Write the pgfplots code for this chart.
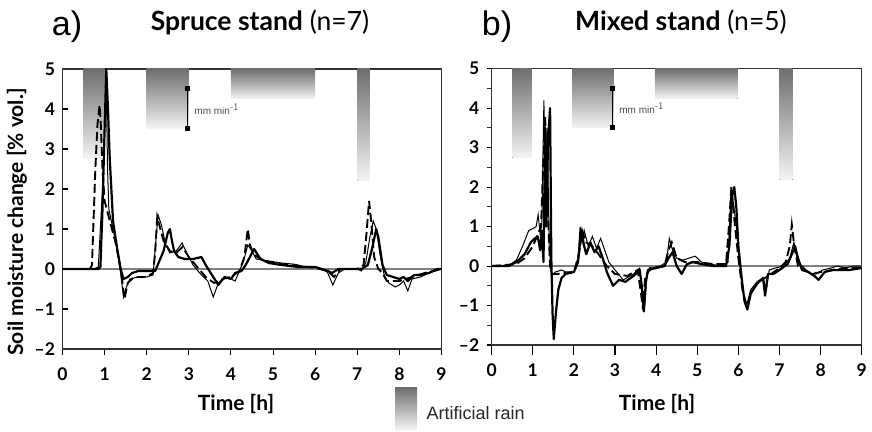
\documentclass[border=0pt]{standalone}
\usepackage{pgfplots}
\pgfplotsset{compat=1.18}
\usepackage{pgfplotstable}
\usepackage{fontspec}
\setmainfont{Lato}
\newfontfamily\arial{Liberation Sans}

% ---------- Spruce stand (left) ----------
\pgfplotstableread{
x y
0 0
0.65 0
0.7 0.1
0.78 2.5
0.83 3.6
0.88 4.1
0.91 3.6
0.95 2.5
1.0 1.7
1.1 1.3
1.25 0.7
1.35 0.2
1.42 -0.3
1.47 -0.75
1.55 -0.35
1.7 -0.2
2.0 -0.2
2.15 -0.1
2.2 0.4
2.25 1.3
2.3 1.1
2.4 0.7
2.55 0.45
2.7 0.4
2.85 0.55
3.0 0.3
3.2 0.05
3.4 -0.2
3.6 -0.35
3.8 -0.25
4.0 -0.2
4.2 -0.05
4.32 0.3
4.4 1.0
4.45 0.6
4.55 0.35
4.8 0.2
5.2 0.12
5.6 0.08
6.0 0.03
6.3 -0.05
6.45 -0.2
6.6 0.0
7.0 0.0
7.15 0.1
7.22 0.9
7.28 1.7
7.33 1.2
7.4 0.3
7.5 0.0
7.6 -0.1
7.7 -0.3
8.0 -0.3
8.3 -0.2
8.6 -0.1
9.0 0
}\spruceA
\pgfplotstableread{
x y
0 0
0.75 0.0
0.85 0.05
0.95 2.0
1.0 3.5
1.04 4.6
1.07 2.5
1.1 1.5
1.2 1.0
1.3 0.5
1.38 -0.1
1.45 -0.7
1.5 -0.5
1.6 -0.25
1.8 -0.2
2.0 -0.2
2.15 -0.15
2.2 0.5
2.27 1.35
2.35 1.1
2.45 0.6
2.55 0.4
2.7 0.45
2.84 0.65
2.95 0.4
3.1 0.1
3.3 -0.15
3.45 -0.3
3.58 -0.7
3.7 -0.35
3.85 -0.2
4.0 -0.25
4.1 -0.3
4.2 -0.05
4.3 0.2
4.4 0.6
4.5 0.45
4.6 0.25
4.9 0.2
5.2 0.15
5.5 0.12
5.8 0.05
6.0 0.05
6.2 0.0
6.3 -0.1
6.42 -0.4
6.55 -0.1
6.7 0.0
7.0 0.0
7.1 -0.05
7.2 0.15
7.3 0.8
7.38 1.2
7.45 1.0
7.55 0.3
7.65 -0.2
7.75 -0.35
7.9 -0.45
8.0 -0.4
8.1 -0.3
8.2 -0.55
8.3 -0.25
8.5 -0.2
8.7 -0.1
8.85 -0.05
9.0 0.0
}\spruceB
\pgfplotstableread{
x y
0 0
0.85 0
0.9 0.05
0.95 1.5
1.0 3.5
1.04 5.0
1.08 4.0
1.12 2.8
1.2 1.2
1.3 0.5
1.38 0.0
1.45 -0.25
1.55 -0.2
1.65 -0.1
1.8 -0.05
2.0 -0.05
2.2 -0.05
2.3 0.2
2.4 0.45
2.5 0.9
2.55 1.0
2.6 0.7
2.65 0.45
2.75 0.3
2.9 0.25
3.1 0.25
3.3 0.3
3.4 0.1
3.55 -0.15
3.7 -0.4
3.85 -0.2
4.0 -0.25
4.1 -0.1
4.25 -0.05
4.35 0.1
4.45 0.3
4.55 0.5
4.7 0.25
4.9 0.15
5.2 0.1
5.6 0.05
6.0 0.05
6.3 -0.05
6.4 -0.1
6.55 0.0
6.8 0.0
7.1 0.0
7.25 0.1
7.35 0.5
7.45 1.0
7.5 0.8
7.6 0.1
7.7 -0.15
7.85 -0.2
8.0 -0.25
8.1 -0.2
8.2 -0.3
8.35 -0.15
8.5 -0.15
8.7 -0.1
8.9 0.0
9.0 0.0
}\spruceC

% ---------- Mixed stand (right) ----------
\pgfplotstableread{
x y
0 0
0.6 0.05
0.8 0.2
1.0 0.5
1.12 0.8
1.2 1.0
1.25 2.5
1.3 3.8
1.34 2.0
1.38 1.0
1.42 0.0
1.47 -0.2
1.6 -0.2
2.0 -0.15
2.12 0.3
2.2 0.9
2.3 0.6
2.45 0.5
2.6 0.3
2.8 0.0
3.0 -0.2
3.3 -0.25
3.55 -0.1
3.62 -0.6
3.68 -1.1
3.73 -0.3
3.85 -0.05
4.2 0.0
4.3 0.4
4.38 0.6
4.5 0.2
4.7 0.1
5.0 0.1
5.4 0.05
5.7 0.05
5.77 1.0
5.83 2.0
5.9 1.2
6.0 0.2
6.1 -0.6
6.2 -1.0
6.35 -0.6
6.5 -0.4
6.65 -0.3
6.8 -0.2
7.0 -0.05
7.15 0.1
7.25 0.5
7.3 1.05
7.36 0.5
7.45 0.0
7.6 -0.1
7.8 -0.2
8.0 -0.15
8.3 -0.1
8.6 -0.05
9.0 -0.05
}\mixedA
\pgfplotstableread{
x y
0 0
0.4 0.0
0.6 0.15
0.75 0.5
0.9 0.9
1.0 0.95
1.08 1.0
1.13 1.3
1.18 0.8
1.22 1.1
1.27 4.2
1.3 2.0
1.35 3.5
1.4 0.5
1.45 -0.25
1.55 -0.15
1.7 -0.1
1.8 -0.15
2.0 -0.15
2.1 0.2
2.15 1.0
2.2 0.6
2.25 0.9
2.35 0.5
2.45 0.75
2.55 0.45
2.65 0.7
2.75 0.4
2.85 0.1
3.0 -0.1
3.2 -0.35
3.45 -0.2
3.6 -0.05
3.67 -0.8
3.72 -1.0
3.78 -0.2
3.9 -0.05
4.1 0.0
4.25 0.1
4.32 0.7
4.4 0.4
4.5 0.2
4.65 0.15
4.8 0.2
4.95 0.25
5.1 0.1
5.3 0.05
5.6 0.0
5.75 0.1
5.82 1.9
5.88 1.6
5.95 1.0
6.02 0.3
6.1 -0.6
6.2 -1.0
6.3 -0.6
6.45 -0.4
6.6 -0.3
6.68 -0.6
6.75 -0.1
6.9 -0.05
7.1 0.0
7.25 0.2
7.35 0.6
7.45 0.1
7.6 -0.05
7.75 -0.2
7.9 -0.2
8.05 -0.1
8.25 -0.05
8.4 0.0
8.6 -0.05
8.8 0.0
9.0 0.0
}\mixedB
\pgfplotstableread{
x y
0 0
0.4 0.0
0.6 0.1
0.8 0.3
0.95 0.6
1.05 0.7
1.12 0.75
1.18 0.4
1.22 0.9
1.26 0.1
1.3 3.5
1.33 1.0
1.37 3.2
1.42 4.0
1.45 0.2
1.48 -1.2
1.51 -1.85
1.56 -1.2
1.62 -0.6
1.7 -0.3
1.8 -0.2
2.0 -0.15
2.1 0.1
2.18 0.9
2.25 0.5
2.3 0.3
2.4 0.6
2.5 0.35
2.6 0.5
2.7 0.2
2.8 -0.15
2.95 -0.5
3.1 -0.35
3.25 -0.4
3.45 -0.25
3.6 -0.1
3.65 -0.5
3.7 -1.15
3.75 -0.4
3.8 -0.1
4.0 -0.05
4.2 0.0
4.3 0.2
4.4 0.35
4.5 0.0
4.62 -0.2
4.75 0.05
4.9 0.1
5.1 0.05
5.4 0.0
5.7 0.0
5.78 0.5
5.85 1.8
5.9 2.0
5.95 1.5
6.0 0.5
6.08 -0.3
6.15 -0.9
6.22 -1.1
6.3 -0.7
6.45 -0.45
6.6 -0.3
6.65 -0.75
6.72 -0.2
6.85 -0.2
7.0 -0.1
7.2 0.05
7.3 0.3
7.38 0.5
7.45 0.2
7.55 -0.1
7.7 -0.15
7.85 -0.25
7.95 -0.35
8.1 -0.15
8.3 -0.1
8.5 -0.1
8.7 -0.1
9.0 -0.05
}\mixedC

\definecolor{rainTop}{HTML}{6E6E6E}
\definecolor{rainBot}{HTML}{F4F4F4}

\pgfplotsset{
  panel/.style={
    scale only axis,
    xmin=0, xmax=9, ymin=-2, ymax=5,
    ytick={-2,...,5},
    yticklabels={--2,--1,0,1,2,3,4,5},
    tick label style={font=\fontsize{17.5}{17.5}\selectfont\bfseries},
    xtick pos=bottom, ytick pos=left,
    axis line style={line width=1.1pt, black!80},
    major tick style={line width=1.1pt, black},
    minor tick style={line width=1pt, black!80},
    clip=false,
  },
  dsh/.style={black, line width=1.9pt, dash pattern=on 9pt off 4pt},
  thn/.style={black, line width=1.0pt},
  thk/.style={black, line width=2.2pt, line join=round},
}

\begin{document}
\begin{tikzpicture}[x=1pt,y=1pt]
\useasboundingbox (0,0) rectangle (872,431);

% ---------------- left panel ----------------
\begin{axis}[panel, at={(62.5pt,82pt)}, anchor=south west, width=379pt, height=280pt,
  xtick={0,...,9}, xticklabels={0,1,2,3,4,5,6,7,8,9},
  xtick align=outside, ytick align=inside, major tick length=6pt,
  xticklabel style={yshift=-9pt},
  yticklabel style={xshift=-4pt}]
  \fill[top color=rainTop, bottom color=rainBot] (axis cs:0.5,5) rectangle (axis cs:1.0,2.75);
  \fill[top color=rainTop, bottom color=rainBot] (axis cs:2.0,5) rectangle (axis cs:3.0,3.5);
  \fill[top color=rainTop, bottom color=rainBot] (axis cs:4.0,5) rectangle (axis cs:6.0,4.25);
  \fill[top color=rainTop, bottom color=rainBot] (axis cs:7.0,5) rectangle (axis cs:7.3,2.2);
  \addplot[black, line width=1pt, mark=square*, mark size=2pt] coordinates {(2.97,3.5) (2.97,4.5)};
  \node[anchor=west, text=black!70, font=\arial\fontsize{10}{10}\selectfont] at (axis cs:3.05,4.0) {mm min$^{\textsf{-1}}$};
  \addplot[gray, line width=1.2pt] coordinates {(0,0) (9,0)};
  \addplot[thn] table {\spruceB};
  \addplot[dsh] table {\spruceA};
  \addplot[thk] table {\spruceC};
\end{axis}

% ---------------- right panel ----------------
\begin{axis}[panel, at={(491.7pt,86pt)}, anchor=south west, width=370pt, height=276.3pt,
  xtick=\empty,
  extra x ticks={0,...,9}, extra x tick labels={0,1,2,3,4,5,6,7,8,9},
  extra x tick style={major tick length=10pt, tick align=outside, xticklabel style={yshift=-5pt}},
  ytick align=outside, major tick length=5pt,
  minor ytick={-1.5,-0.5,...,4.5},
  minor tick length=5pt,
  yticklabel style={xshift=-4pt}]
  \fill[top color=rainTop, bottom color=rainBot] (axis cs:0.5,5) rectangle (axis cs:0.98,2.74);
  \fill[top color=rainTop, bottom color=rainBot] (axis cs:1.97,5) rectangle (axis cs:2.96,3.5);
  \fill[top color=rainTop, bottom color=rainBot] (axis cs:3.97,5) rectangle (axis cs:5.98,4.24);
  \fill[top color=rainTop, bottom color=rainBot] (axis cs:7.0,5) rectangle (axis cs:7.32,2.19);
  \addplot[black, line width=1pt, mark=square*, mark size=2pt] coordinates {(2.94,3.5) (2.94,4.5)};
  \node[anchor=west, text=black!70, font=\arial\fontsize{10}{10}\selectfont] at (axis cs:3.02,4.0) {mm min$^{\textsf{-1}}$};
  \addplot[gray, line width=1.2pt] coordinates {(0,0) (9,0)};
  \addplot[thn] table {\mixedB};
  \addplot[dsh] table {\mixedA};
  \addplot[thk] table {\mixedC};
\end{axis}

% ---------------- titles and labels ----------------
\node[font=\arial\fontsize{34}{34}\selectfont] at (67,404) {a)};
\node[font=\fontsize{26.5}{26.5}\selectfont] at (260,409) {\textbf{Spruce stand} (n=7)};
\node[font=\arial\fontsize{34}{34}\selectfont] at (497,404) {b)};
\node[font=\fontsize{26.5}{26.5}\selectfont] at (681,409) {\textbf{Mixed stand} (n=5)};
\node[font=\fontsize{21}{21}\selectfont\bfseries] at (236,27) {Time [h]};
\node[font=\fontsize{21}{21}\selectfont\bfseries] at (657,27) {Time [h]};
\node[font=\fontsize{21}{21}\selectfont\bfseries, rotate=90] at (17,209) {Soil moisture change [\% vol.]};
\shade[top color=rainTop, bottom color=rainBot] (395,1) rectangle (417,44);
\node[anchor=west, font=\arial\fontsize{18}{18}\selectfont, text=black!85] at (423,18) {Artificial rain};
\end{tikzpicture}
\end{document}
